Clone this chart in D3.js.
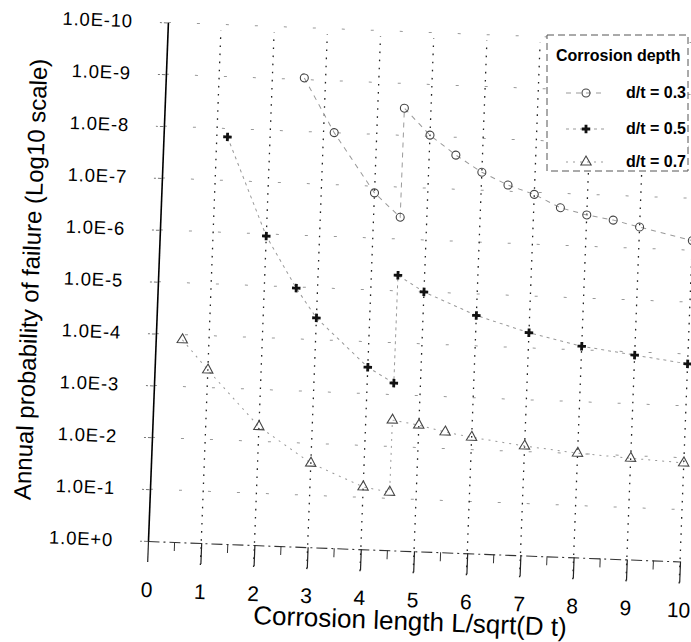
<!DOCTYPE html>
<html><head><meta charset="utf-8">
<script src="https://cdn.jsdelivr.net/npm/d3@7"></script>
<style>body{margin:0;background:#fff}svg{display:block}</style>
</head><body>
<svg id="c" width="691" height="642"></svg>
<script>
// ---- data ----
const xTicks = [0,1,2,3,4,5,6,7,8,9,10];
const xMinorTicks = [0.5,1.5,2.5,3.5,4.5,5.5,6.5,7.5,8.5,9.5];
const yTickValues = [1e-10,1e-9,1e-8,1e-7,1e-6,1e-5,1e-4,1e-3,1e-2,1e-1,1];
const yTickLabels = ["1.0E-10","1.0E-9","1.0E-8","1.0E-7","1.0E-6","1.0E-5","1.0E-4","1.0E-3","1.0E-2","1.0E-1","1.0E+0"];
const seriesNames = ["d/t = 0.3","d/t = 0.5","d/t = 0.7"];
const legendTitle = "Corrosion depth";

const x03 = [2.6, 3.2, 4.0, 4.5, 4.5, 5.0, 5.5, 6.0, 6.5, 7.0, 7.5, 8.0, 8.5, 9.0, 10.0];
const p03 = [9.3e-10, 1.0e-8, 1.35e-7, 3.8e-7, 3.0e-9, 9.5e-9, 2.2e-8, 4.5e-8, 7.6e-8, 1.1e-7, 1.9e-7, 2.5e-7, 3.0e-7, 3.9e-7, 6.5e-7];

const x05 = [1.2, 2.0, 2.6, 3.0, 4.0, 4.5, 4.5, 5.0, 6.0, 7.0, 8.0, 9.0, 10.0];
const p05 = [1.45e-8, 1.1e-6, 1.05e-5, 3.8e-5, 3.1e-4, 6.0e-4, 5.0e-6, 1.0e-5, 2.6e-5, 5.1e-5, 8.5e-5, 1.15e-4, 1.55e-4];

const x07 = [0.5, 1.0, 2.0, 3.0, 4.0, 4.5, 4.5, 5.0, 5.5, 6.0, 7.0, 8.0, 9.0, 10.0];
const p07 = [1.26e-4, 4.6e-4, 5.2e-3, 2.4e-2, 6.3e-2, 7.6e-2, 3.1e-3, 3.7e-3, 4.8e-3, 5.8e-3, 7.8e-3, 9.8e-3, 1.12e-2, 1.26e-2];

// ---- layout ----
const plotL = 148, plotR = 680.4, plotT = 22, plotB = 541;
const tilt = 2.2; // the scanned page is slightly rotated
const FONT = "'Liberation Sans',Arial,sans-serif";

const svg = d3.select("#c");
svg.append("rect").attr("width",691).attr("height",642).attr("fill","#fff");

const x = d3.scaleLinear().domain([0,10]).range([plotL,plotR]);
const y = d3.scaleLog().domain([1,1e-10]).range([plotB,plotT]);

const g = svg.append("g").attr("transform",`rotate(${tilt},${plotL},${plotB})`);

// horizontal faint gridlines
g.append("g").selectAll("line").data(yTickValues.slice(0,-1)).join("line")
  .attr("x1",plotL).attr("x2",plotR).attr("y1",d=>y(d)).attr("y2",d=>y(d))
  .attr("stroke","#999").attr("stroke-width",1).attr("stroke-dasharray","3,26");

// vertical dotted gridlines
g.append("g").selectAll("line").data(xTicks.slice(1)).join("line")
  .attr("x1",d=>x(d)).attr("x2",d=>x(d)).attr("y1",plotB+22).attr("y2",plotT+6)
  .attr("stroke","#222").attr("stroke-width",1.3).attr("stroke-dasharray","1.6,6.5");

// y axis
const yAxis = g.append("g").attr("transform",`translate(${plotL},0)`)
  .call(d3.axisLeft(y).tickValues(yTickValues).tickFormat((d,i)=>yTickLabels[i])
        .tickSize(8).tickSizeOuter(0).tickPadding(27));
yAxis.select(".domain").attr("stroke","#000").attr("stroke-width",1.6);
yAxis.selectAll(".tick line").attr("stroke","#777").attr("stroke-dasharray","4,2");
yAxis.selectAll("text").attr("font-family",FONT)
  .attr("font-size","18.5px").attr("letter-spacing","0.8px").attr("fill","#000");

// x axis
const xAxis = g.append("g").attr("transform",`translate(0,${plotB})`)
  .call(d3.axisBottom(x).tickValues(xTicks).tickFormat(d3.format("d"))
        .tickSize(21).tickSizeOuter(0).tickPadding(20));
xAxis.select(".domain").attr("stroke","#333").attr("stroke-width",1.1).attr("stroke-dasharray","11,4,2,4");
xAxis.selectAll(".tick line").attr("stroke","#222").attr("stroke-width",1.2);
xAxis.selectAll("text").attr("font-family",FONT).attr("font-size","21px").attr("fill","#000");
xAxis.append("g").selectAll("line").data(xMinorTicks).join("line")
  .attr("x1",d=>x(d)).attr("x2",d=>x(d)).attr("y1",0).attr("y2",9)
  .attr("stroke","#333").attr("stroke-width",1);

// axis titles
g.append("text").attr("x",413).attr("y",620).attr("text-anchor","middle")
  .attr("font-family",FONT).attr("font-size","26px")
  .text("Corrosion length L/sqrt(D t)");
g.append("text").attr("transform","translate(29,284) rotate(-90)").attr("text-anchor","middle")
  .attr("font-family",FONT).attr("font-size","24px")
  .text("Annual probability of failure (Log10 scale)");

// series
const series = [
  {name:seriesNames[0], xs:x03, ps:p03, sym:"circle", dash:"5,5"},
  {name:seriesNames[1], xs:x05, ps:p05, sym:"cross", dash:"3,4"},
  {name:seriesNames[2], xs:x07, ps:p07, sym:"triangle", dash:"2,5"}
];
const line = d3.line().x(d=>x(d[0])).y(d=>y(d[1]));

function drawMarker(sel, sym){
  if(sym==="circle"){
    sel.append("circle").attr("r",4).attr("fill","none").attr("stroke","#444").attr("stroke-width",1.1);
  } else if(sym==="cross"){
    sel.append("path").attr("d",d3.symbol().type(d3.symbolCross).size(40)()).attr("fill","#111");
  } else {
    sel.append("path").attr("d",d3.symbol().type(d3.symbolTriangle).size(46)())
      .attr("fill","none").attr("stroke","#444").attr("stroke-width",1.1);
  }
}

series.forEach(s=>{
  const pts = s.xs.map((v,i)=>[v,s.ps[i]]);
  g.append("path").datum(pts).attr("d",line).attr("fill","none")
    .attr("stroke","#999").attr("stroke-width",1).attr("stroke-dasharray",s.dash);
  g.append("g").selectAll("g").data(pts).join("g")
    .attr("transform",d=>`translate(${x(d[0])},${y(d[1])})`)
    .each(function(){ drawMarker(d3.select(this), s.sym); });
});

// legend (kept in page coordinates)
const lg = svg.append("g");
lg.append("rect").attr("x",547).attr("y",35).attr("width",141).attr("height",136)
  .attr("fill","#fff").attr("stroke","#555").attr("stroke-width",1).attr("stroke-dasharray","7,4");
lg.append("text").attr("x",556).attr("y",61).attr("font-family",FONT)
  .attr("font-weight","bold").attr("font-size","16px").text(legendTitle);
const rowY = [93,129,162];
series.forEach((s,i)=>{
  lg.append("line").attr("x1",566).attr("x2",606).attr("y1",rowY[i]).attr("y2",rowY[i])
    .attr("stroke","#999").attr("stroke-width",1).attr("stroke-dasharray",s.dash);
  const m = lg.append("g").attr("transform",`translate(586,${rowY[i]})`);
  drawMarker(m, s.sym);
  lg.append("text").attr("x",686).attr("y",rowY[i]+5).attr("text-anchor","end")
    .attr("font-family",FONT).attr("font-weight","bold")
    .attr("font-size","16px").text(s.name);
});
</script>
</body></html>
